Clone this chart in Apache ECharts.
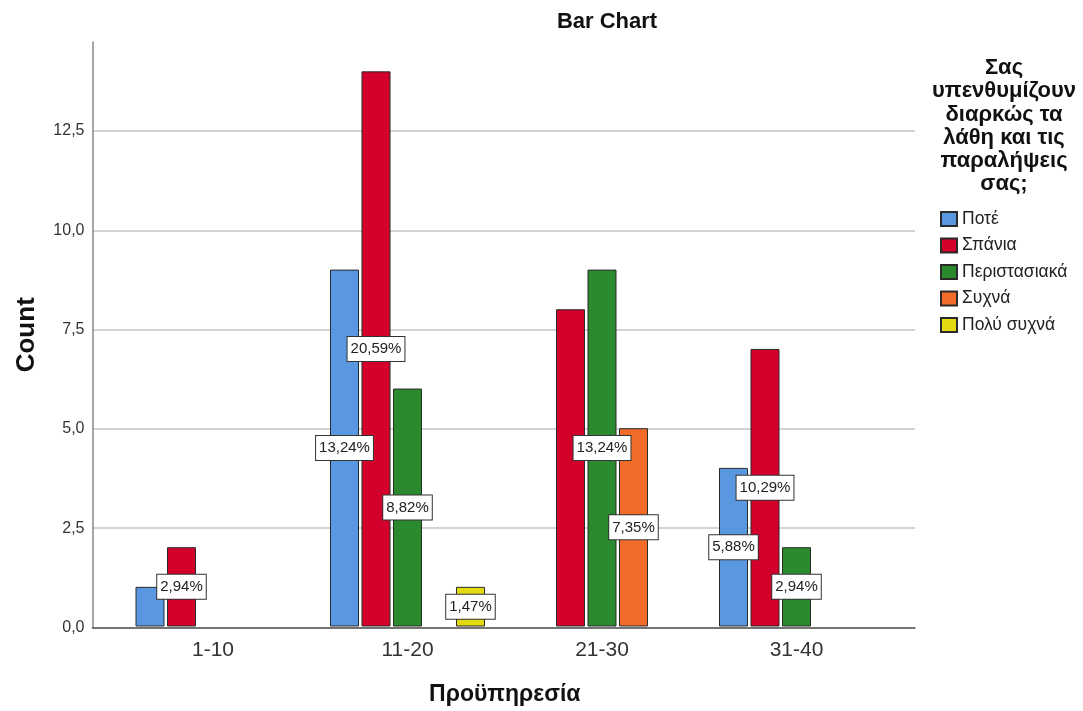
<!DOCTYPE html>
<html>
<head>
<meta charset="utf-8">
<script src="https://cdn.jsdelivr.net/npm/echarts@6/dist/echarts.min.js"></script>
<style>
html,body{margin:0;padding:0;background:#fff;}
#chart{width:1083px;height:711px;}
</style>
</head>
<body>
<div id="chart"></div>
<script>
// ---- data ----
const categories = ['1-10', '11-20', '21-30', '31-40'];
const seriesNames = ['Ποτέ', 'Σπάνια', 'Περιστασιακά', 'Συχνά', 'Πολύ συχνά'];
const valuesPote = [1, 9, null, 4];
const valuesSpania = [2, 14, 8, 7];
const valuesPerist = [null, 6, 9, 2];
const valuesSyxna = [null, null, 5, null];
const valuesPolySyxna = [null, 1, null, null];
// visible percentage labels ('' = not shown)
const pctPote = ['', '13,24%', '', '5,88%'];
const pctSpania = ['2,94%', '20,59%', '', '10,29%'];
const pctPerist = ['', '8,82%', '13,24%', '2,94%'];
const pctSyxna = ['', '', '7,35%', ''];
const pctPolySyxna = ['', '1,47%', '', ''];
const yTicks = [0, 2.5, 5, 7.5, 10, 12.5];
const yMax = 14.74;
const chartTitle = 'Bar Chart';
const legendTitle = 'Σας\nυπενθυμίζουν\nδιαρκώς τα\nλάθη και τις\nπαραλήψεις\nσας;';
const xName = 'Προϋπηρεσία';
const yName = 'Count';

const colors = ['#5a97e1', '#d4002c', '#2b8a2e', '#f36b28', '#e4da12'];
const FONT = '"Liberation Sans", Arial, sans-serif';

const allValues = [valuesPote, valuesSpania, valuesPerist, valuesSyxna, valuesPolySyxna];
const allPct = [pctPote, pctSpania, pctPerist, pctSyxna, pctPolySyxna];

const series = seriesNames.map((name, si) => ({
  name: name,
  type: 'bar',
  xAxisIndex: 0,
  yAxisIndex: 0,
  barWidth: 29,
  barGap: '8.6%',
  itemStyle: { color: colors[si], borderColor: '#2a2a2a', borderWidth: 1 },
  data: allValues[si].map((v, i) => ({
    value: v,
    label: {
      show: !!allPct[si][i] && v != null,
      formatter: allPct[si][i],
      position: 'inside',
      fontFamily: FONT,
      fontSize: 15,
      color: '#222',
      backgroundColor: '#ffffff',
      borderColor: '#333',
      borderWidth: 1,
      padding: [5, 3, 4, 3]
    }
  }))
}));

const chart = echarts.init(document.getElementById('chart'));
chart.setOption({
  animation: false,
  backgroundColor: '#fff',
  textStyle: { fontFamily: FONT },
  grid: [
    { left: 115.75, width: 778, top: 42, bottom: 83.5 },
    { left: 92.5, right: 168, top: 42, bottom: 83.5 }
  ],
  xAxis: [
    {
      type: 'category', gridIndex: 0, data: categories,
      axisLine: { show: false }, axisTick: { show: false },
      axisLabel: { fontSize: 21, color: '#333', margin: 13, fontFamily: FONT },
      name: xName, nameLocation: 'middle', nameGap: 68,
      nameTextStyle: { fontSize: 23, fontWeight: 'bold', color: '#111', fontFamily: FONT, verticalAlign: 'middle' }
    },
    {
      type: 'value', gridIndex: 1, min: 0, max: 1,
      axisLine: { show: true, lineStyle: { color: '#555', width: 1.5 } },
      axisTick: { show: false }, axisLabel: { show: false }, splitLine: { show: false }
    }
  ],
  yAxis: [
    {
      type: 'value', gridIndex: 0, min: 0, max: yMax,
      show: false, splitLine: { show: false }
    },
    {
      type: 'value', gridIndex: 1, min: 0, max: yMax, interval: 2.5,
      axisLine: { show: true, lineStyle: { color: '#888', width: 1.5 } },
      axisTick: { show: false },
      axisLabel: {
        fontSize: 16, color: '#333', margin: 8, fontFamily: FONT, showMaxLabel: false,
        formatter: v => yTicks.indexOf(v) >= 0 ? v.toFixed(1).replace('.', ',') : ''
      },
      splitLine: { show: true, showMaxLine: false, lineStyle: { color: '#c4c4c4', width: 1.5 } },
      name: yName, nameLocation: 'middle', nameGap: 66, nameRotate: 90,
      nameTextStyle: { fontSize: 26, fontWeight: 'bold', color: '#111', fontFamily: FONT, verticalAlign: 'middle' }
    }
  ],
  legend: {
    orient: 'vertical', left: 935, top: 205,
    itemWidth: 16, itemHeight: 14, itemGap: 8.5, icon: 'rect',
    data: seriesNames,
    textStyle: { fontSize: 17.5, color: '#222', fontFamily: FONT, lineHeight: 14 }
  },
  graphic: [
    {
      type: 'text', x: 607, y: 22,
      style: { text: chartTitle, font: 'bold 22px ' + FONT, fill: '#111', textAlign: 'center', textVerticalAlign: 'middle' }
    },
    {
      type: 'text', x: 1004, y: 56.5,
      style: { text: legendTitle, font: 'bold 22px ' + FONT, fill: '#111', textAlign: 'center', textVerticalAlign: 'top', lineHeight: 23.2 }
    }
  ],
  series: series
});
</script>
</body>
</html>
